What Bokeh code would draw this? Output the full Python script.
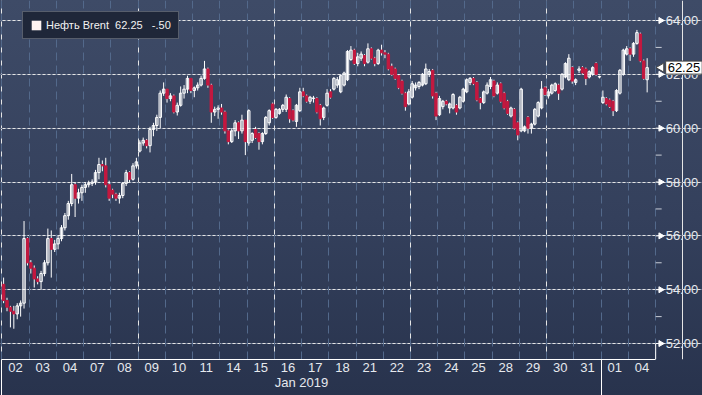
import math
from bokeh.plotting import figure
from bokeh.core.properties import value
from bokeh.models import (Range1d, LinearAxis, FixedTicker, Legend, LegendItem,
                          Label, ColumnDataSource, Grid)
from bokeh.embed import file_html
from bokeh.resources import INLINE

# ---------------- data ----------------
day_labels = ["02", "03", "04", "07", "08", "09", "10", "11", "14", "15", "16", "17",
              "18", "21", "22", "23", "24", "25", "28", "29", "30", "31", "01", "04"]
month_label = "Jan 2019"
month_center_day = 11
month_start_days = [0, 22]
bars_per_day = 8
series_name = "Нефть Brent"
last_price = 62.25
net_change = "-.50"
y_ticks = [52, 54, 56, 58, 60, 62, 64]
y_minor = [53, 55, 57, 59, 61, 63]

opens = [
    [54.2, 53.6, 53.35, 53.2, 53.1, 53.4, 53.5, 55.9],
    [55.0, 54.8, 54.4, 54.3, 54.6, 55.0, 55.9, 55.5],
    [55.7, 55.9, 56.3, 56.75, 57.2, 57.9, 57.4, 57.6],
    [57.8, 57.9, 57.95, 58.0, 58.35, 58.65, 58.6, 57.9],
    [57.7, 57.55, 57.4, 57.5, 57.95, 58.35, 58.1, 58.6],
    [59.15, 59.45, 59.55, 59.35, 59.95, 60.1, 60.4, 61.3],
    [61.45, 61.1, 61.2, 60.6, 60.85, 61.3, 61.45, 61.85],
    [61.4, 61.5, 61.6, 61.85, 62.2, 61.6, 60.6, 60.7],
    [60.75, 60.6, 59.9, 59.5, 59.9, 60.2, 59.9, 60.3],
    [59.45, 59.55, 59.95, 59.8, 59.5, 59.8, 60.2, 60.9],
    [60.4, 60.55, 60.7, 60.7, 61.1, 60.65, 60.25, 60.65],
    [61.35, 61.2, 61.0, 61.1, 61.1, 60.85, 60.4, 60.85],
    [61.35, 61.45, 61.6, 61.35, 61.6, 61.8, 62.55, 62.9],
    [62.4, 62.6, 62.7, 62.45, 62.95, 62.6, 62.4, 62.9],
    [62.8, 62.75, 62.3, 62.2, 61.95, 61.75, 61.3, 60.9],
    [61.15, 61.5, 61.55, 61.6, 61.65, 62.0, 62.15, 61.3],
    [60.5, 60.8, 61.0, 60.75, 60.75, 60.85, 60.75, 61.0],
    [61.35, 61.7, 61.85, 61.7, 61.1, 60.95, 61.3, 61.55],
    [61.75, 61.3, 61.65, 61.3, 61.0, 60.45, 60.7, 60.2],
    [59.9, 59.9, 60.4, 60.0, 60.15, 60.45, 60.75, 61.5],
    [61.2, 61.3, 61.4, 61.6, 61.45, 61.9, 61.8, 62.25],
    [61.7, 62.15, 62.25, 62.2, 61.9, 62.0, 62.4, 61.9],
    [60.95, 61.1, 61.05, 61.0, 60.65, 61.3, 62.0, 62.75],
    [62.95, 62.75, 63.15, 63.5, 62.5, 61.8],
]
highs = [
    [54.45, 53.7, 53.4, 53.4, 53.5, 53.6, 56.55, 55.95],
    [55.1, 54.9, 54.5, 54.7, 55.1, 56.27, 56.2, 55.85],
    [56.0, 56.4, 56.85, 57.3, 58.3, 58.0, 57.75, 57.9],
    [58.0, 58.05, 58.1, 58.45, 58.9, 58.8, 58.9, 58.05],
    [57.75, 57.6, 57.6, 58.0, 58.45, 58.4, 58.7, 58.9],
    [59.55, 59.65, 59.6, 60.05, 60.2, 60.5, 61.4, 61.7],
    [61.45, 61.3, 61.25, 60.95, 61.55, 61.6, 61.95, 61.8],
    [61.55, 61.7, 61.95, 62.5, 62.25, 61.65, 60.8, 60.85],
    [60.9, 60.65, 59.95, 60.0, 60.3, 60.25, 60.5, 60.3],
    [60.7, 59.85, 60.05, 59.85, 59.85, 60.45, 60.7, 60.95],
    [60.75, 60.75, 60.9, 61.25, 61.15, 60.7, 60.9, 61.5],
    [61.5, 61.25, 61.2, 61.2, 61.15, 60.9, 60.8, 61.45],
    [61.45, 61.9, 61.9, 62.0, 62.1, 62.9, 63.05, 62.95],
    [62.8, 62.85, 62.75, 63.15, 63.0, 62.65, 62.95, 63.1],
    [62.9, 62.8, 62.4, 62.25, 62.0, 61.8, 61.35, 61.45],
    [61.75, 61.7, 61.75, 62.05, 62.4, 62.2, 62.2, 61.35],
    [61.2, 61.05, 61.05, 60.95, 61.3, 60.9, 61.2, 61.5],
    [61.85, 61.9, 61.9, 61.75, 61.15, 61.4, 61.7, 61.9],
    [61.8, 61.7, 61.7, 61.35, 61.05, 60.8, 60.75, 60.25],
    [61.5, 60.1, 60.45, 60.2, 60.75, 61.0, 61.75, 61.55],
    [61.45, 61.65, 61.7, 61.65, 62.05, 62.45, 62.75, 62.3],
    [61.85, 62.3, 62.3, 62.25, 62.15, 62.3, 62.45, 61.95],
    [61.4, 61.15, 61.1, 61.05, 61.45, 62.2, 62.95, 63.05],
    [63.0, 63.2, 63.65, 63.55, 62.55, 62.6],
]
lows = [
    [53.5, 53.2, 52.6, 52.55, 52.9, 53.0, 53.3, 54.9],
    [54.6, 54.08, 54.2, 54.0, 54.5, 54.9, 54.45, 55.4],
    [55.5, 55.8, 56.2, 56.6, 57.1, 56.7, 57.2, 57.3],
    [57.6, 57.8, 57.85, 57.9, 58.1, 58.4, 57.8, 57.3],
    [57.4, 57.3, 57.2, 57.4, 57.85, 58.0, 58.05, 58.5],
    [59.1, 59.35, 59.25, 59.1, 59.7, 59.9, 60.0, 61.2],
    [60.95, 61.0, 60.55, 60.47, 60.8, 61.1, 61.3, 61.3],
    [61.15, 61.4, 61.55, 61.8, 61.5, 60.2, 60.45, 60.35],
    [60.5, 59.8, 59.4, 59.45, 59.7, 59.6, 59.8, 59.0],
    [59.35, 59.45, 59.6, 59.2, 59.4, 59.75, 60.1, 60.35],
    [60.35, 60.5, 60.6, 60.6, 60.2, 60.25, 60.05, 60.6],
    [61.15, 60.95, 60.9, 60.95, 60.55, 60.1, 60.3, 60.8],
    [61.1, 61.4, 61.5, 61.3, 61.55, 61.75, 62.5, 62.35],
    [62.3, 62.5, 62.3, 62.4, 62.55, 62.3, 62.35, 62.7],
    [62.6, 62.15, 61.95, 61.8, 61.45, 61.25, 60.65, 60.85],
    [61.1, 61.4, 61.45, 61.55, 61.6, 61.9, 61.1, 60.3],
    [60.45, 60.7, 60.85, 60.55, 60.7, 60.5, 60.7, 60.95],
    [61.3, 61.6, 61.6, 61.0, 60.7, 60.9, 61.25, 61.45],
    [61.15, 61.25, 60.95, 60.7, 60.5, 60.4, 59.95, 59.55],
    [59.85, 59.85, 59.8, 59.8, 60.1, 60.4, 60.7, 61.2],
    [61.1, 61.25, 61.35, 61.05, 61.4, 61.85, 61.75, 61.65],
    [61.6, 62.05, 62.0, 61.6, 61.85, 61.95, 61.95, 61.85],
    [60.9, 60.85, 60.75, 60.45, 60.6, 61.25, 61.95, 62.7],
    [62.5, 62.65, 63.1, 62.45, 61.8, 61.33],
]
closes = [
    [53.6, 53.35, 53.2, 53.1, 53.4, 53.5, 55.9, 55.0],
    [54.8, 54.4, 54.3, 54.6, 55.0, 55.9, 55.5, 55.7],
    [55.9, 56.3, 56.75, 57.2, 57.9, 57.4, 57.6, 57.8],
    [57.9, 57.95, 58.0, 58.35, 58.65, 58.6, 57.9, 57.4],
    [57.55, 57.4, 57.5, 57.95, 58.35, 58.1, 58.6, 58.75],
    [59.45, 59.55, 59.35, 59.95, 60.1, 60.4, 61.3, 61.45],
    [61.1, 61.2, 60.6, 60.85, 61.3, 61.45, 61.85, 61.4],
    [61.5, 61.6, 61.85, 62.2, 61.6, 60.6, 60.7, 60.75],
    [60.6, 59.9, 59.5, 59.9, 60.2, 59.9, 60.3, 59.5],
    [60.65, 59.8, 59.65, 59.5, 59.8, 60.4, 60.65, 60.4],
    [60.7, 60.7, 60.85, 61.15, 60.35, 60.3, 60.85, 61.35],
    [61.2, 61.0, 61.15, 61.12, 60.6, 60.35, 60.75, 61.3],
    [61.15, 61.85, 61.8, 61.95, 62.05, 62.85, 62.9, 62.4],
    [62.65, 62.75, 62.4, 62.95, 62.6, 62.4, 62.9, 62.8],
    [62.75, 62.2, 62.0, 61.85, 61.5, 61.3, 60.8, 61.35],
    [61.65, 61.6, 61.7, 62.0, 62.2, 62.1, 61.2, 60.45],
    [61.1, 61.0, 60.9, 60.9, 61.25, 60.6, 61.15, 61.45],
    [61.8, 61.85, 61.65, 61.05, 60.95, 61.35, 61.6, 61.8],
    [61.2, 61.6, 61.0, 60.75, 60.55, 60.75, 60.0, 59.75],
    [61.45, 60.05, 60.0, 60.15, 60.7, 60.95, 61.45, 61.25],
    [61.35, 61.6, 61.65, 61.3, 62.0, 62.4, 62.6, 61.75],
    [61.8, 62.2, 62.05, 61.85, 62.1, 62.25, 62.0, 61.92],
    [61.15, 60.9, 60.8, 60.65, 61.4, 62.15, 62.9, 62.95],
    [62.75, 63.15, 63.55, 62.5, 61.85, 62.25],
]

# ---------------- build sources ----------------
up = dict(x=[], top=[], bottom=[], high=[], low=[])
dn = dict(x=[], top=[], bottom=[], high=[], low=[])
last_x = 0.0
for d in range(len(closes)):
    for k in range(len(closes[d])):
        o, h, l, c = opens[d][k], highs[d][k], lows[d][k], closes[d][k]
        tgt = up if c >= o else dn
        last_x = d + (k + 0.5) / bars_per_day
        tgt["x"].append(last_x)
        tgt["top"].append(max(o, c))
        tgt["bottom"].append(min(o, c))
        tgt["high"].append(h)
        tgt["low"].append(l)
src_up = ColumnDataSource(up)
src_dn = ColumnDataSource(dn)

n_days = len(day_labels)
FONT = "Liberation Sans"
TXT = "#e6e9ee"

# geometry (style): frame spans the full width; price scale drawn at x = n_days
W, H = 702, 395
PX_PER_DAY = 27.24
X0_PX = 1.4
x_start = -X0_PX / PX_PER_DAY
x_end = (W - X0_PX) / PX_PER_DAY
PX_PER_UNIT = 26.92
y_hi = 64 + 20 / PX_PER_UNIT
y_lo = y_hi - 359 / PX_PER_UNIT

p = figure(width=W, height=H, output_backend="svg", toolbar_location=None,
           x_range=Range1d(x_start, x_end), y_range=Range1d(y_lo, y_hi),
           x_axis_location=None, y_axis_location=None,
           min_border_left=0, min_border_top=0, min_border_right=0, min_border_bottom=0)
p.outline_line_color = None
p.background_fill_alpha = 0
p.border_fill_alpha = 0
p.styles = {"background": "linear-gradient(to bottom, #3e4b67 0%, #34405c 55%, #28334d 100%)"}

# grids (limited to the price area)
hgrid = Grid(dimension=1, ticker=FixedTicker(ticks=y_ticks), bounds=(0, n_days),
             grid_line_color="#616e88", grid_line_dash="2 3", grid_line_width=1)
vgrid = Grid(dimension=0, ticker=FixedTicker(ticks=list(range(0, n_days + 1))),
             grid_line_color="#53698b", grid_line_dash="8 5", grid_line_width=1)
p.add_layout(hgrid)
p.add_layout(vgrid)

# candles
bw = 0.72 / bars_per_day
p.segment(x0="x", y0="low", x1="x", y1="high", source=src_up, line_color="white", line_width=1)
p.segment(x0="x", y0="low", x1="x", y1="high", source=src_dn, line_color="white", line_width=1)
p.vbar(x="x", width=bw, top="top", bottom="bottom", source=src_dn,
       fill_color="#c4183f", line_color="#c4183f", line_width=1)
p.vbar(x="x", width=bw, top="top", bottom="bottom", source=src_up,
       fill_alpha=0, line_color="white", line_width=1)

# price scale on the right edge of the price area
d1 = 1.0 / PX_PER_DAY
p.segment(x0=[n_days] * len(y_minor), y0=y_minor, x1=[n_days + 6 * d1] * len(y_minor), y1=y_minor,
          line_color="#c9ced8", line_width=1)
p.segment(x0=[n_days] * len(y_ticks), y0=y_ticks, x1=[n_days + 3 * d1] * len(y_ticks), y1=y_ticks,
          line_color="white", line_width=1)
p.scatter(x=[n_days + 5 * d1] * len(y_ticks), y=y_ticks, marker="triangle", angle=-math.pi / 2,
          size=6, fill_color="white", line_color="white")
p.text(x=[n_days] * len(y_ticks), y=y_ticks, text=[f"{t:.2f}" for t in y_ticks],
       x_offset=10, text_baseline="middle", text_align="left",
       text_color=TXT, text_font=value(FONT), text_font_size=value("13px"))
p.segment(x0=[n_days], y0=[y_lo], x1=[n_days], y1=[y_ticks[0]], line_color="white", line_width=1)

# bottom day axis
xax = LinearAxis(ticker=FixedTicker(ticks=[d + 0.5 for d in range(n_days)]),
                 major_label_overrides={d + 0.5: lab for d, lab in enumerate(day_labels)},
                 bounds=(0, n_days),
                 axis_line_color="white", axis_line_width=1,
                 major_tick_line_color=None, major_tick_in=0, major_tick_out=0,
                 minor_tick_line_color=None,
                 major_label_text_color=TXT, major_label_text_font=FONT,
                 major_label_text_font_size="13px", major_label_standoff=3)
p.add_layout(xax, "below")
xax2 = LinearAxis(ticker=FixedTicker(ticks=[month_center_day]),
                  major_label_overrides={month_center_day: month_label},
                  axis_line_color=None, major_tick_line_color=None, minor_tick_line_color=None,
                  major_tick_in=0, major_tick_out=0,
                  major_label_text_color=TXT, major_label_text_font=FONT,
                  major_label_text_font_size="13px", major_label_standoff=0)
p.add_layout(xax2, "below")
# month separators (long ticks rising from the bottom edge)
xax3 = LinearAxis(ticker=FixedTicker(ticks=[], minor_ticks=month_start_days),
                  axis_line_color=None, major_tick_line_color=None,
                  major_tick_in=0, major_tick_out=0, minor_tick_out=3, minor_tick_in=33,
                  minor_tick_line_color="white", minor_tick_line_width=1,
                  major_label_text_font_size="0px", major_label_standoff=0)
p.add_layout(xax3, "below")

# legend box (its swatch is a zero-size rect on the last bar)
sq = p.rect(x=[last_x], y=[closes[-1][-1]], width=0, height=0,
            fill_color="#fff3f1", line_color=None)
legend = Legend(items=[LegendItem(label=f"{series_name}  {last_price:.2f}   {net_change}", renderers=[sq])],
                location=(22, 320), margin=0, padding=7, spacing=0,
                glyph_width=12, glyph_height=12, label_standoff=4,
                label_text_color="#f2f2f2", label_text_font=FONT, label_text_font_size="11px",
                background_fill_color="#1f2739", background_fill_alpha=1,
                border_line_color="#8f959f", border_line_width=1)
p.add_layout(legend)

# last price callout
p.scatter(x=[n_days + 5.5 * d1], y=[last_price], marker="triangle", angle=math.pi / 2,
          size=9, fill_color="white", line_color="#444444")
p.add_layout(Label(x=n_days, y=last_price, text=f"{last_price:.2f}", text_color="black",
                   text_font=FONT, text_font_size="13px", text_baseline="middle", text_align="left",
                   x_offset=10, background_fill_color="white", border_line_color="#444444",
                   padding=2))

open("out.html", "w").write(file_html(p, INLINE))
